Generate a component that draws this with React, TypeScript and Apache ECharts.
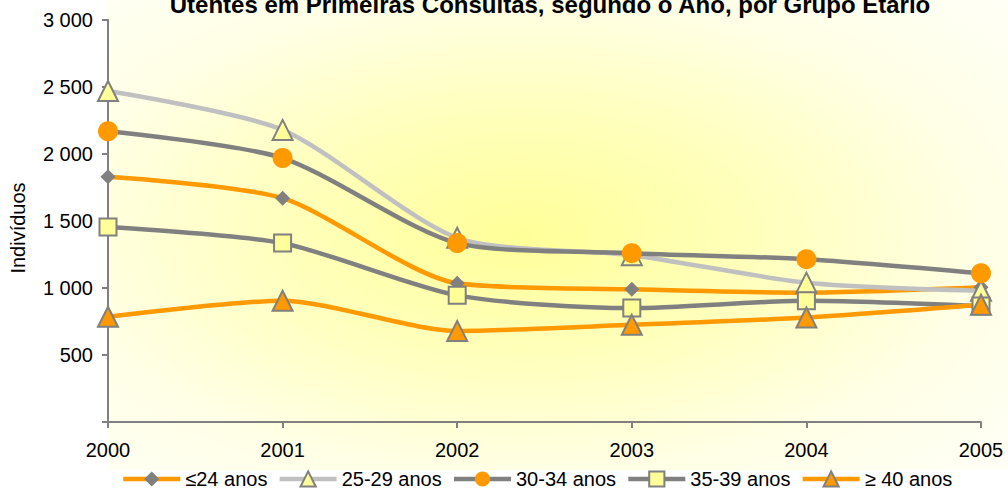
import React, { useEffect, useRef } from "react";
import * as echarts from "echarts";

const titleText = "Utentes em Primeiras Consultas, segundo o Ano, por Grupo Etário";
const yAxisName = "Indivíduos";
const years = ["2000", "2001", "2002", "2003", "2004", "2005"];
const yTicks = [0, 500, 1000, 1500, 2000, 2500, 3000];

const seriesNames = ["≤24 anos", "25-29 anos", "30-34 anos", "35-39 anos", "≥ 40 anos"];
const ageUpTo24 = [1830, 1670, 1035, 990, 965, 1005];
const age25to29 = [2470, 2180, 1375, 1245, 1040, 980];
const age30to34 = [2170, 1970, 1335, 1260, 1215, 1110];
const age35to39 = [1455, 1335, 945, 850, 905, 865];
const age40plus = [785, 905, 680, 725, 780, 875];

const ORANGE = "#FF9900";
const DGRAY = "#808080";
const LGRAY = "#C0C0C0";
const LYELLOW = "#FFFF99";

const fmt = (v: number) => (v === 0 ? "" : v >= 1000 ? `${Math.floor(v / 1000)} ${String(v % 1000).padStart(3, "0")}` : String(v));

export default function App() {
  const ref = useRef<HTMLDivElement>(null);
  useEffect(() => {
    if (!ref.current) return;
    const chart = echarts.init(ref.current, undefined, { renderer: "svg" });
    const font = "Liberation Sans, Arial, sans-serif";
    const mk = (
      name: string,
      data: number[],
      lineColor: string,
      symbol: string,
      size: number,
      fill: string,
      border: string | null
    ) => ({
      name,
      type: "line",
      data,
      smooth: 0.25,
      symbol,
      symbolSize: size,
      lineStyle: { color: lineColor, width: 4.5 },
      itemStyle: {
        color: fill,
        borderColor: border ?? fill,
        borderWidth: border ? 2 : 0,
      },
      emphasis: { disabled: true },
    });
    chart.setOption({
      animation: false,
      backgroundColor: "#FFFFFF",
      title: {
        text: titleText,
        left: 545,
        textAlign: "center",
        top: -13,
        textStyle: { fontFamily: font, fontSize: 24, fontWeight: "bold", color: "#000" },
      },
      graphic: [
        {
          type: "rect",
          z: -10,
          silent: true,
          shape: { x: 108, y: 0, width: 900, height: 470 },
          style: {
            fill: new echarts.graphic.RadialGradient(0.46, 0.5, 0.85, [
              { offset: 0, color: "#FFFF99" },
              { offset: 0.3, color: "#FFFFBB" },
              { offset: 0.6, color: "#FFFFE6" },
              { offset: 1, color: "#FFFFFF" },
            ]),
          },
        },
      ],
      grid: { left: 107, right: 27, top: 20, bottom: 71, containLabel: false },
      legend: {
        data: seriesNames,
        left: 116,
        top: 464,
        itemWidth: 57,
        itemHeight: 19,
        itemGap: 10,
        lineStyle: { width: 4.5 },
        textStyle: { fontFamily: font, fontSize: 20, color: "#000" },
      },
      xAxis: {
        type: "category",
        data: years,
        boundaryGap: false,
        axisLine: { lineStyle: { color: DGRAY, width: 2 } },
        axisTick: { show: true, length: 6, lineStyle: { color: DGRAY, width: 2 } },
        axisLabel: { fontFamily: font, fontSize: 20, color: "#000", margin: 18 },
        splitLine: { show: false },
      },
      yAxis: {
        type: "value",
        min: 0,
        max: 3000,
        interval: 500,
        name: yAxisName,
        nameLocation: "middle",
        nameGap: 80,
        nameTextStyle: { fontFamily: font, fontSize: 20, color: "#000", padding: [0, 14, 0, 0] },
        axisLine: { show: true, lineStyle: { color: DGRAY, width: 2 } },
        axisTick: { show: true, length: 6, lineStyle: { color: DGRAY, width: 2 } },
        axisLabel: {
          fontFamily: font,
          fontSize: 20,
          color: "#000",
          margin: 15,
          formatter: (v: number) => (yTicks.includes(v) ? fmt(v) : ""),
        },
        splitLine: { show: false },
      },
      series: [
        mk(seriesNames[0], ageUpTo24, ORANGE, "diamond", 15, DGRAY, null),
        mk(seriesNames[1], age25to29, LGRAY, "triangle", 20, LYELLOW, DGRAY),
        mk(seriesNames[2], age30to34, DGRAY, "circle", 20, ORANGE, null),
        mk(seriesNames[3], age35to39, DGRAY, "rect", 17, LYELLOW, DGRAY),
        mk(seriesNames[4], age40plus, ORANGE, "triangle", 20, ORANGE, DGRAY),
      ],
    });
    return () => chart.dispose();
  }, []);
  return <div ref={ref} style={{ width: 1008, height: 493, position: "absolute", left: 0, top: 0 }} />;
}
